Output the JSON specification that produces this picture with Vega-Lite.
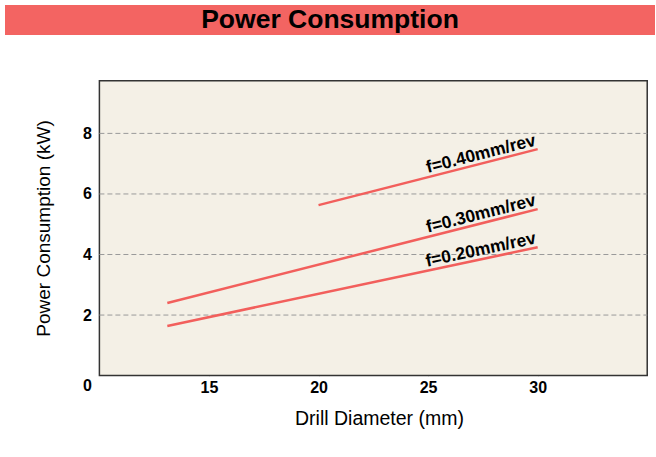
{
  "$schema": "https://vega.github.io/schema/vega-lite/v6.json",
  "padding": {"left": 5, "top": 5, "right": 0, "bottom": 0},
  "background": "white",
  "spacing": 0,
  "config": {
    "view": {"stroke": null},
    "axis": {
      "domain": false, "grid": false,
      "tickSize": -10, "tickColor": "#333333", "tickWidth": 1.5,
      "labelFont": "Liberation Sans", "labelFontSize": 16, "labelFontWeight": "bold", "labelColor": "#000000",
      "titleFont": "Liberation Sans", "titleFontSize": 19, "titleFontWeight": "normal", "titleColor": "#000000",
      "zindex": 1
    }
  },
  "datasets": {
    "lines": [
      {"f": "f=0.40mm/rev", "d": 20, "p": 5.63},
      {"f": "f=0.40mm/rev", "d": 30, "p": 7.48},
      {"f": "f=0.30mm/rev", "d": 13.1, "p": 2.40},
      {"f": "f=0.30mm/rev", "d": 30, "p": 5.50},
      {"f": "f=0.20mm/rev", "d": 13.1, "p": 1.64},
      {"f": "f=0.20mm/rev", "d": 30, "p": 4.24}
    ],
    "grid": [{"v": 2}, {"v": 4}, {"v": 6}, {"v": 8}],
    "header": [{"title": "Power Consumption"}]
  },
  "vconcat": [
    {
      "width": 650, "height": 30,
      "view": {"fill": "#F36462", "stroke": null},
      "data": {"name": "header"},
      "mark": {"type": "text", "font": "Liberation Sans", "fontWeight": "bold", "fontSize": 26.5, "color": "#000000", "align": "center", "baseline": "middle"},
      "encoding": {"text": {"field": "title"}}
    },
    {
      "width": 650, "height": 420,
      "view": {"stroke": null},
      "layer": [
        {
          "data": {"values": [{}]},
          "mark": {"type": "rect", "fill": "#F4F0E6", "stroke": "#333333", "strokeWidth": 1.5},
          "encoding": {
            "x": {"datum": 10, "type": "quantitative", "title": "Drill Diameter (mm)"},
            "x2": {"datum": 35},
            "y": {"datum": 0, "type": "quantitative", "title": "Power Consumption (kW)"},
            "y2": {"datum": 9.74}
          }
        },
        {
          "data": {"name": "grid"},
          "mark": {"type": "rule", "stroke": "#9a9a9a", "strokeDash": [5, 3], "strokeWidth": 1},
          "encoding": {
            "y": {"field": "v", "type": "quantitative", "title": "Power Consumption (kW)"},
            "x": {"datum": 10, "type": "quantitative", "title": "Drill Diameter (mm)"},
            "x2": {"datum": 35}
          }
        },
        {
          "data": {"name": "lines"},
          "mark": {"type": "line", "color": "#F25F5C", "strokeWidth": 2.5},
          "encoding": {
            "x": {"field": "d", "type": "quantitative", "title": "Drill Diameter (mm)",
              "scale": {"domain": [5.692, 35.355], "nice": false, "zero": false},
              "axis": {"values": [15, 20, 25, 30], "offset": -79.4, "titlePadding": 14, "labelPadding": 14,
                "titleFontSize": 19.5, "titleX": 374, "titleAlign": "center"}},
            "y": {"field": "p", "type": "quantitative", "title": "Power Consumption (kW)",
              "scale": {"domain": [-2.622, 11.25], "nice": false, "zero": false},
              "axis": {"values": [0, 2, 4, 6, 8], "offset": -94.4, "titlePadding": 29, "labelPadding": 18,
                "titleY": 193, "titleAlign": "center",
                "tickOpacity": {"condition": {"test": "datum.value === 0", "value": 0}, "value": 1},
                "labelOffset": {"condition": {"test": "datum.value === 0", "value": 10}, "value": 0}}},
            "detail": {"field": "f"}
          }
        },
        {
          "data": {"name": "lines"},
          "transform": [{"filter": "datum.f === 'f=0.40mm/rev' && datum.d === 30"}],
          "mark": {"type": "text", "angle": 345.66, "align": "right", "baseline": "alphabetic", "dy": -4, "font": "Liberation Sans", "fontWeight": "bold", "fontSize": 17.5, "color": "#000000"},
          "encoding": {
            "x": {"field": "d", "type": "quantitative", "title": "Drill Diameter (mm)"},
            "y": {"field": "p", "type": "quantitative", "title": "Power Consumption (kW)"},
            "text": {"field": "f"}
          }
        },
        {
          "data": {"name": "lines"},
          "transform": [{"filter": "datum.f === 'f=0.30mm/rev' && datum.d === 30"}],
          "mark": {"type": "text", "angle": 345.77, "align": "right", "baseline": "alphabetic", "dy": -4, "font": "Liberation Sans", "fontWeight": "bold", "fontSize": 17.5, "color": "#000000"},
          "encoding": {
            "x": {"field": "d", "type": "quantitative", "title": "Drill Diameter (mm)"},
            "y": {"field": "p", "type": "quantitative", "title": "Power Consumption (kW)"},
            "text": {"field": "f"}
          }
        },
        {
          "data": {"name": "lines"},
          "transform": [{"filter": "datum.f === 'f=0.20mm/rev' && datum.d === 30"}],
          "mark": {"type": "text", "angle": 348.0, "align": "right", "baseline": "alphabetic", "dy": -4, "font": "Liberation Sans", "fontWeight": "bold", "fontSize": 17.5, "color": "#000000"},
          "encoding": {
            "x": {"field": "d", "type": "quantitative", "title": "Drill Diameter (mm)"},
            "y": {"field": "p", "type": "quantitative", "title": "Power Consumption (kW)"},
            "text": {"field": "f"}
          }
        }
      ]
    }
  ]
}
